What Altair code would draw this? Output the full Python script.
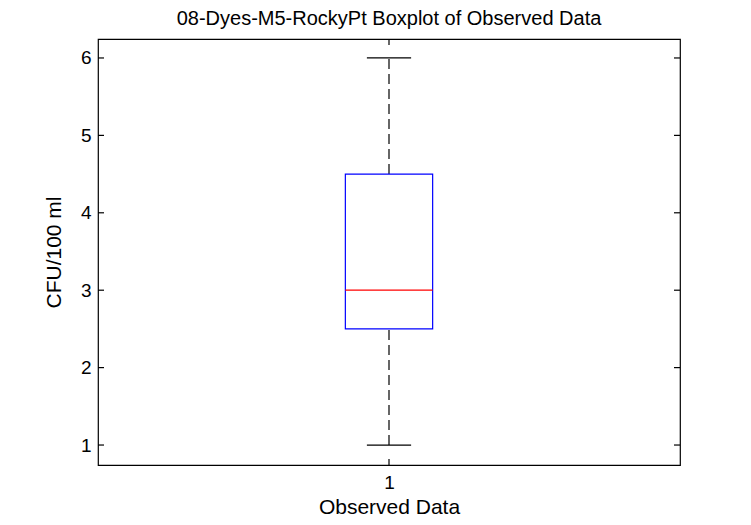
import altair as alt
import pandas as pd

# Data
category = [1]
whisker_low = [1.0]
q1 = [2.5]
median = [3.0]
q3 = [4.5]
whisker_high = [6.0]
y_ticks = [1, 2, 3, 4, 5, 6]
x_ticks = [1]

box_half = 0.075
cap_half = 0.038

df = pd.DataFrame({
    "x": category,
    "lo": whisker_low,
    "q1": q1,
    "med": median,
    "q3": q3,
    "hi": whisker_high,
})
df["bx1"] = df["x"] - box_half
df["bx2"] = df["x"] + box_half
df["cx1"] = df["x"] - cap_half
df["cx2"] = df["x"] + cap_half

W, H = 582, 426
FONT = "Liberation Sans"

xs = alt.Scale(domain=[0.5, 1.5], nice=False, zero=False)
ys = alt.Scale(domain=[0.742, 6.245], nice=False, zero=False)

base = alt.Chart(df)

whisker_up = base.mark_rule(color="black", strokeDash=[10, 5], strokeWidth=1.2).encode(
    x=alt.X("x:Q", scale=xs, axis=alt.Axis(values=x_ticks, format="d", ticks=False, domain=False,
                                           grid=False, title="Observed Data", labelFontSize=19,
                                           titleFontSize=21, labelPadding=8, titlePadding=4,
                                           labelFont=FONT, titleFont=FONT, labelColor="black",
                                           titleColor="black", titleFontWeight="normal")),
    y=alt.Y("q3:Q", scale=ys, axis=alt.Axis(values=y_ticks, format="d", ticks=False, domain=False,
                                            grid=False, title="CFU/100 ml", labelFontSize=19,
                                            titleFontSize=21, labelPadding=7, titlePadding=16,
                                            labelFont=FONT, titleFont=FONT, labelColor="black",
                                            titleColor="black", titleFontWeight="normal")),
    y2="hi:Q",
)
whisker_dn = base.mark_rule(color="black", strokeDash=[10, 5], strokeWidth=1.2).encode(
    x=alt.X("x:Q", scale=xs), y=alt.Y("lo:Q", scale=ys), y2="q1:Q"
)
cap_hi = base.mark_rule(color="black", strokeWidth=1.2).encode(
    x=alt.X("cx1:Q", scale=xs), x2="cx2:Q", y=alt.Y("hi:Q", scale=ys)
)
cap_lo = base.mark_rule(color="black", strokeWidth=1.2).encode(
    x=alt.X("cx1:Q", scale=xs), x2="cx2:Q", y=alt.Y("lo:Q", scale=ys)
)
box = base.mark_rect(fill="white", stroke="#0000ff", strokeWidth=1.2).encode(
    x=alt.X("bx1:Q", scale=xs), x2="bx2:Q", y=alt.Y("q1:Q", scale=ys), y2="q3:Q"
)
med = base.mark_rule(color="#ff0000", strokeWidth=1.2).encode(
    x=alt.X("bx1:Q", scale=xs), x2="bx2:Q", y=alt.Y("med:Q", scale=ys)
)

yt = pd.DataFrame({"v": y_ticks})
xt = pd.DataFrame({"v": x_ticks})
tl = alt.Chart(yt).mark_rule(color="black", strokeWidth=1.2).encode(
    y=alt.Y("v:Q", scale=ys), x=alt.value(0), x2=alt.value(6))
tr = alt.Chart(yt).mark_rule(color="black", strokeWidth=1.2).encode(
    y=alt.Y("v:Q", scale=ys), x=alt.value(W - 6), x2=alt.value(W))
tb = alt.Chart(xt).mark_rule(color="black", strokeWidth=1.2).encode(
    x=alt.X("v:Q", scale=xs), y=alt.value(H - 6), y2=alt.value(H))
tt = alt.Chart(xt).mark_rule(color="black", strokeWidth=1.2).encode(
    x=alt.X("v:Q", scale=xs), y=alt.value(0), y2=alt.value(6))

chart = alt.layer(whisker_up, whisker_dn, cap_hi, cap_lo, box, med, tl, tr, tb, tt).properties(
    width=W, height=H,
    background="white",
    title=alt.TitleParams("08-Dyes-M5-RockyPt Boxplot of Observed Data", fontSize=20,
                          font=FONT, fontWeight="normal", color="black", offset=9),
    autosize=alt.AutoSizeParams(type="none"),
    padding={"left": 90, "top": 31, "right": 55, "bottom": 56},
).configure_view(stroke="black", strokeWidth=1.2)

chart.save("out.html", embed_options={"renderer": "svg", "actions": False})
